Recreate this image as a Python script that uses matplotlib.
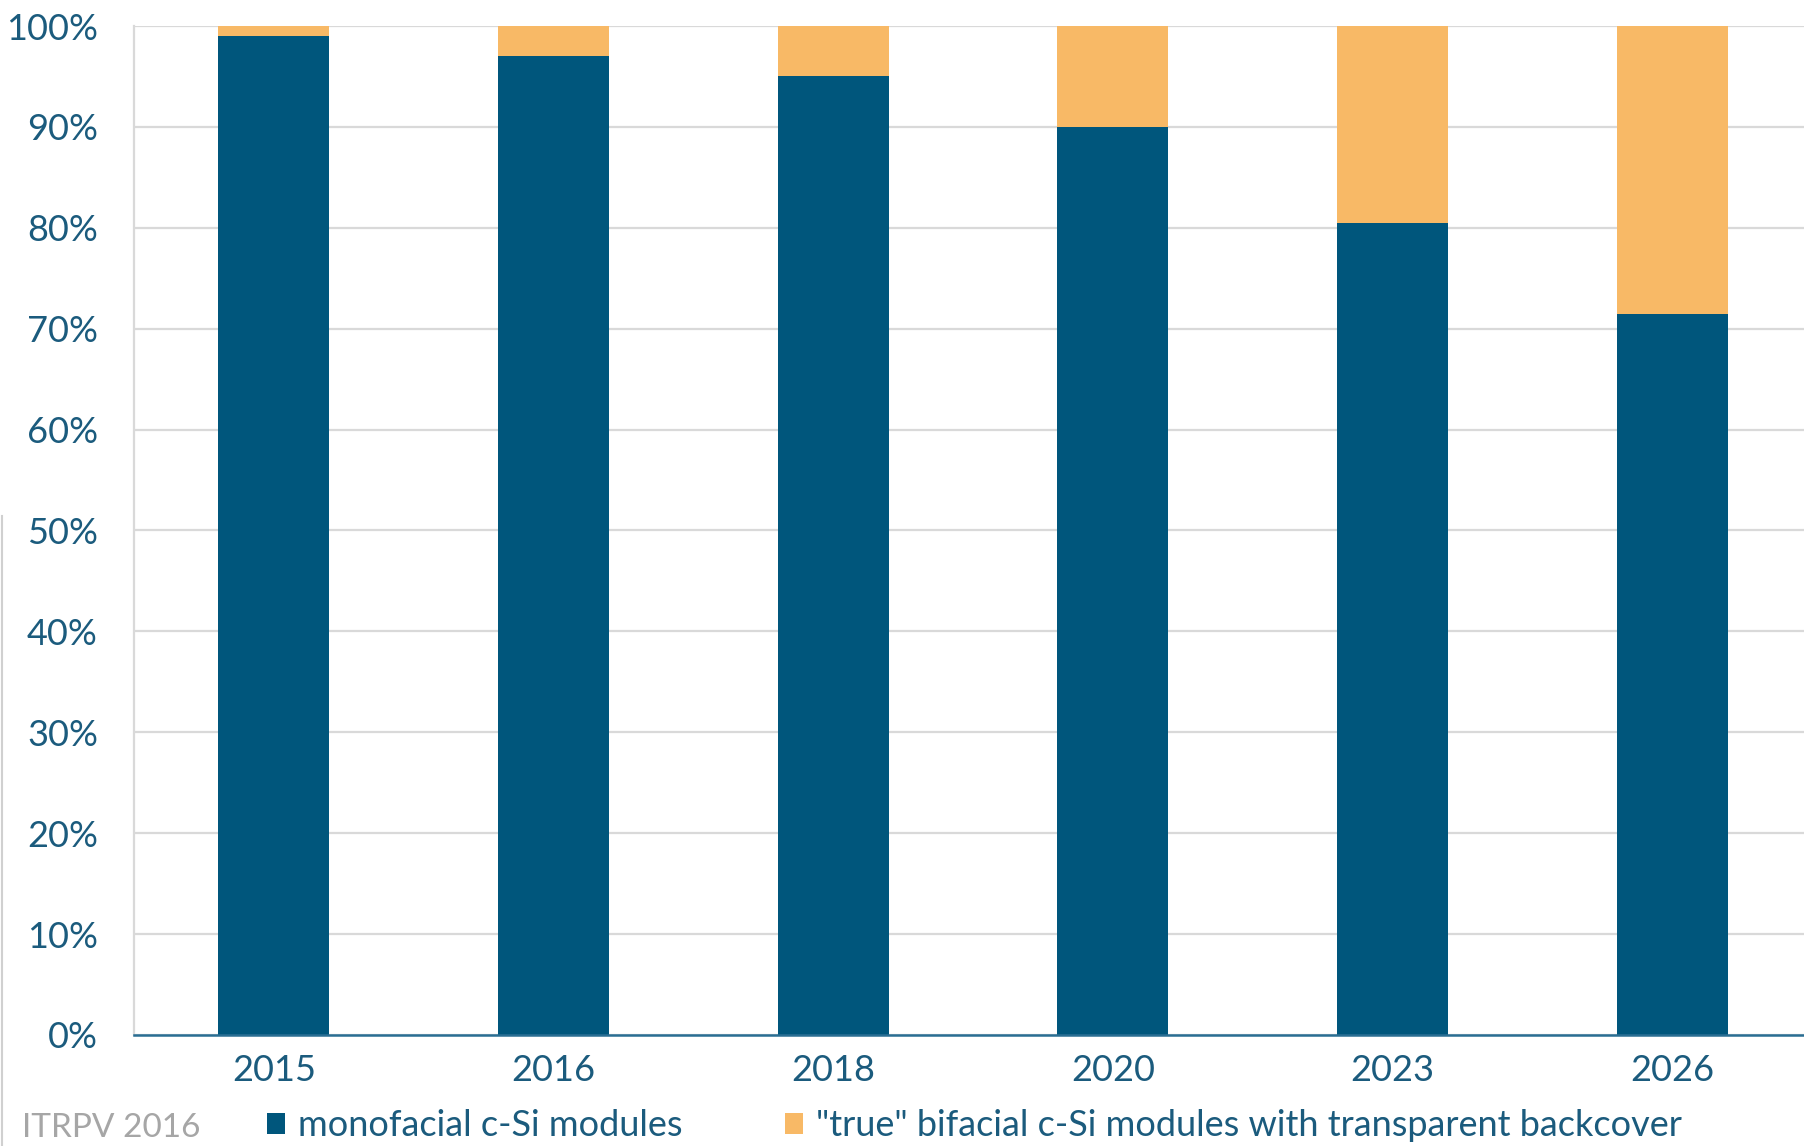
import matplotlib
matplotlib.use("Agg")
import matplotlib.pyplot as plt
from matplotlib.lines import Line2D

years = ["2015", "2016", "2018", "2020", "2023", "2026"]
monofacial = [99.0, 97.0, 95.0, 90.0, 80.5, 71.5]
bifacial = [1.0, 3.0, 5.0, 10.0, 19.5, 28.5]
y_ticks = [0, 10, 20, 30, 40, 50, 60, 70, 80, 90, 100]
y_labels = ["0%", "10%", "20%", "30%", "40%", "50%", "60%", "70%", "80%", "90%", "100%"]
series_names = ["monofacial c-Si modules",
                '"true" bifacial c-Si modules with transparent backcover']
source = "ITRPV 2016"

BLUE = "#00567c"
ORANGE = "#f8b966"
TXT = "#1b5b7d"

plt.rcParams['font.family'] = ['Lato', 'DejaVu Sans']

fig = plt.figure(figsize=(18.04, 11.46), dpi=100)
ax = fig.add_axes([0.0743, 0.0969, 1.0044 - 0.0743, 0.9773 - 0.0969])

x = list(range(len(years)))
b1 = ax.bar(x, monofacial, width=0.397, color=BLUE, zorder=3)
b2 = ax.bar(x, bifacial, bottom=monofacial, width=0.397, color=ORANGE, zorder=3)

ax.set_xlim(-0.5, len(years) - 0.5)
ax.set_ylim(0, 100)
ax.set_yticks(y_ticks)
ax.set_yticklabels(y_labels)
ax.set_xticks(x)
ax.set_xticklabels(years)
ax.tick_params(axis='both', length=0, labelsize=26, colors=TXT)
ax.tick_params(axis='y', pad=26)
ax.tick_params(axis='x', pad=14)
ax.yaxis.grid(True, color="#d9d9d9", linewidth=1.6, zorder=0)
ax.set_axisbelow(True)
for s in ["top", "right"]:
    ax.spines[s].set_visible(False)
ax.spines["left"].set_color("#d9d9d9")
ax.spines["left"].set_linewidth(1.6)
ax.spines["bottom"].set_color("#2a6e93")
ax.spines["bottom"].set_linewidth(1.8)
ax.spines["bottom"].set_zorder(4)

# faint left border line of the original screenshot
fig.add_artist(Line2D([0.0012, 0.0012], [0.0, 0.55], color="#d0d0d0", linewidth=1.5))

fig.text(0.012, 0.008, source, color="#a6a6a6", fontsize=24, ha="left", va="baseline")

fig.legend([b1, b2], series_names, loc="lower left",
           bbox_to_anchor=(0.134, -0.019), ncol=2, frameon=False,
           fontsize=26, labelcolor=TXT, handlelength=0.5, handleheight=0.5,
           handletextpad=0.35, columnspacing=2.85, borderpad=0.2)

fig.savefig("out.png", dpi=100, facecolor="white")
